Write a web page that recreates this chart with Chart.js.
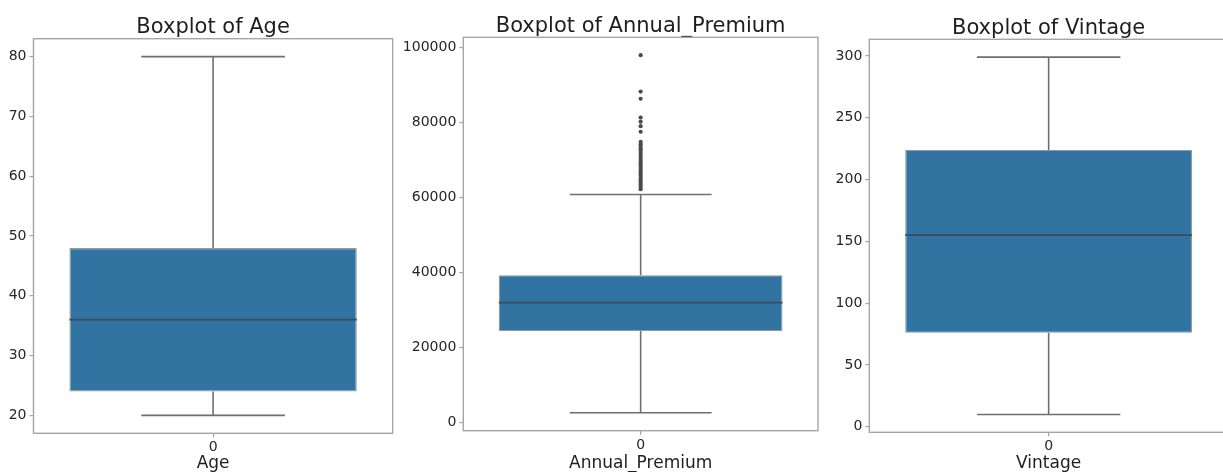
<!DOCTYPE html>
<html>
<head>
<meta charset="utf-8">
<script src="https://cdn.jsdelivr.net/npm/chart.js@4.4.1/dist/chart.umd.min.js"></script>
<style>
  html, body { margin: 0; padding: 0; width: 1223px; height: 472px; overflow: hidden; background: #ffffff; }
  .panel { position: absolute; top: 0; height: 472px; }
</style>
</head>
<body>
<div class="panel" style="left:0px;width:395px"><canvas id="ageChart"></canvas></div>
<div class="panel" style="left:400px;width:422px"><canvas id="premiumChart"></canvas></div>
<div class="panel" style="left:810px;width:420px"><canvas id="vintageChart"></canvas></div>
<script>
// Category shown under each box
const categories = ['0'];

// Box summaries: [lower whisker, Q1, median, Q3, upper whisker]
const ageBox = [20, 24, 36, 48, 80];
const premiumBox = [2630, 24400, 32000, 39300, 60800];
const vintageBox = [10, 76, 155, 224, 299];

// Points beyond the whiskers
const ageOutliers = [];
const premiumOutliers = [
  97900, 88200, 86300, 81300, 80200, 79000, 77500,
  74800, 74200, 73700, 73100, 72500, 71900, 71300, 70600, 70000,
  69400, 68800, 68200, 67600, 67000, 66400, 65800, 65200, 64600,
  64000, 63400, 62800, 62200
];
const vintageOutliers = [];

// Tick labels on the value axes
const ageTicks = [20, 30, 40, 50, 60, 70, 80];
const premiumTicks = [0, 20000, 40000, 60000, 80000, 100000];
const vintageTicks = [0, 50, 100, 150, 200, 250, 300];

const titles = ['Boxplot of Age', 'Boxplot of Annual_Premium', 'Boxplot of Vintage'];
const axisNames = ['Age', 'Annual_Premium', 'Vintage'];

Chart.defaults.font.family = "'DejaVu Sans', 'Liberation Sans', sans-serif";

const BOX_FILL = '#3274a1';
const LINE_GRAY = '#6f6f6f';
const MEDIAN_COLOR = '#3a4b5a';
const FRAME_GRAY = '#a6a6a6';
const TEXT_DARK = '#262626';

// Whiskers, caps and median line, placed with the chart's own scales
const boxLinesPlugin = {
  id: 'boxLines',
  afterDatasetsDraw(chart, args, opts) {
    const stats = opts.stats;
    if (!stats) return;
    const bar = chart.getDatasetMeta(0).data[0];
    if (!bar) return;
    const y = chart.scales.y;
    const cx = bar.x;
    const half = bar.width / 2;
    const capHalf = half / 2;
    const ctx = chart.ctx;
    const [lo, q1, med, q3, hi] = stats;
    ctx.save();
    ctx.strokeStyle = LINE_GRAY;
    ctx.lineWidth = 1.6;
    ctx.beginPath();
    ctx.moveTo(cx, y.getPixelForValue(q3));
    ctx.lineTo(cx, y.getPixelForValue(hi));
    ctx.moveTo(cx, y.getPixelForValue(q1));
    ctx.lineTo(cx, y.getPixelForValue(lo));
    ctx.moveTo(cx - capHalf, y.getPixelForValue(hi));
    ctx.lineTo(cx + capHalf, y.getPixelForValue(hi));
    ctx.moveTo(cx - capHalf, y.getPixelForValue(lo));
    ctx.lineTo(cx + capHalf, y.getPixelForValue(lo));
    ctx.stroke();
    ctx.strokeStyle = MEDIAN_COLOR;
    ctx.lineWidth = 1.8;
    ctx.beginPath();
    ctx.moveTo(cx - half, y.getPixelForValue(med));
    ctx.lineTo(cx + half, y.getPixelForValue(med));
    ctx.stroke();
    ctx.restore();
  }
};

// Full rectangular frame round the plotting area
const framePlugin = {
  id: 'frame',
  afterDraw(chart) {
    const a = chart.chartArea;
    const ctx = chart.ctx;
    ctx.save();
    ctx.strokeStyle = FRAME_GRAY;
    ctx.lineWidth = 1.4;
    ctx.strokeRect(a.left, a.top, a.right - a.left, a.bottom - a.top);
    ctx.restore();
  }
};

function makeBoxChart(canvasId, cfg) {
  const stats = cfg.box;
  const all = stats.concat(cfg.outliers);
  const lo = Math.min(...all);
  const hi = Math.max(...all);
  const margin = (hi - lo) * 0.05;

  return new Chart(document.getElementById(canvasId), {
    type: 'bar',
    data: {
      labels: categories,
      datasets: [
        {
          data: [[stats[1], stats[3]]],
          backgroundColor: BOX_FILL,
          borderColor: '#8e9aa4',
          borderWidth: 1.2,
          borderSkipped: false,
          barPercentage: 0.8,
          categoryPercentage: 1.0,
          grouped: false
        },
        {
          type: 'line',
          data: cfg.outliers.map(v => ({ x: categories[0], y: v })),
          showLine: false,
          pointStyle: 'circle',
          pointRadius: 2.1,
          pointBackgroundColor: '#4a4a4a',
          pointBorderWidth: 0
        }
      ]
    },
    options: {
      responsive: true,
      maintainAspectRatio: false,
      animation: false,
      events: [],
      layout: { padding: cfg.padding },
      plugins: {
        legend: { display: false },
        tooltip: { enabled: false },
        title: {
          display: true,
          fullSize: false,
          text: cfg.title,
          color: '#1e1e1e',
          font: { size: 21, weight: 'normal', lineHeight: 1 },
          padding: { top: 0, bottom: 0.5 }
        },
        boxLines: { stats: stats }
      },
      scales: {
        x: {
          type: 'category',
          offset: true,
          border: { display: false },
          grid: { display: true, offset: false, drawOnChartArea: false, drawTicks: true, tickLength: 4, color: FRAME_GRAY, lineWidth: 1.2 },
          ticks: { color: TEXT_DARK, font: { size: 14 }, padding: 2 },
          title: { display: true, text: cfg.axisName, color: '#1e1e1e', font: { size: 17, lineHeight: 1 }, padding: { top: 0, bottom: 0 } },
          afterFit: s => { s.height = cfg.xHeight; }
        },
        y: {
          type: 'linear',
          min: lo - margin,
          max: hi + margin,
          border: { display: false },
          grid: { display: true, drawOnChartArea: false, drawTicks: true, tickLength: 4, color: FRAME_GRAY, lineWidth: 1.2 },
          ticks: { color: TEXT_DARK, font: { size: 14 }, padding: 3, callback: v => String(v) },
          afterBuildTicks: s => { s.ticks = cfg.ticks.map(v => ({ value: v })); },
          afterFit: s => { s.width = cfg.yWidth; }
        }
      }
    },
    plugins: [boxLinesPlugin, framePlugin]
  });
}

makeBoxChart('ageChart', {
  box: ageBox, outliers: ageOutliers, ticks: ageTicks,
  title: titles[0], axisName: axisNames[0],
  yWidth: 30, xHeight: 38.7,
  padding: { left: 3.5, right: 2.3, top: 17.2, bottom: 0 }
});
makeBoxChart('premiumChart', {
  box: premiumBox, outliers: premiumOutliers, ticks: premiumTicks,
  title: titles[1], axisName: axisNames[1],
  yWidth: 60, xHeight: 41.3,
  padding: { left: 3.3, right: 2.1, top: 15.8, bottom: 0 }
});
makeBoxChart('vintageChart', {
  box: vintageBox, outliers: vintageOutliers, ticks: vintageTicks,
  title: titles[2], axisName: axisNames[2],
  yWidth: 50, xHeight: 39.7,
  padding: { left: 9.3, right: 2, top: 17.8, bottom: 0 }
});
</script>
</body>
</html>
